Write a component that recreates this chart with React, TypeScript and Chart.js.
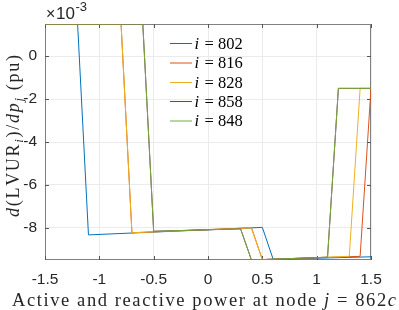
import React, { useEffect, useRef } from "react";
import { Chart, registerables } from "chart.js";

Chart.register(...registerables);

// Values in units of 1e-3 (axis shows ×10^-3)
const seriesLabels = ["802", "816", "828", "858", "848"];
const seriesColors = ["#0072BD", "#D95319", "#EDB120", "#7E2F8E", "#77AC30"];

const x802 = [-1.5, -1.2, -1.1, 0.5, 0.6, 1.5];
const y802 = [1.5, 1.5, -8.33, -7.98, -9.47, -9.35];

const x816 = [-1.5, -0.8, -0.7, 0.4, 0.5, 1.4, 1.5];
const y816 = [1.5, 1.5, -8.23, -8.0, -9.48, -9.33, -1.5];

const x828 = [-1.5, -0.8, -0.7, 0.4, 0.5, 1.3, 1.4, 1.5];
const y828 = [1.5, 1.5, -8.23, -8.0, -9.48, -9.33, -1.5, -1.5];

const x858 = [-1.5, -0.6, -0.5, 0.3, 0.4, 1.1, 1.2, 1.5];
const y858 = [1.5, 1.5, -8.16, -8.05, -9.5, -9.37, -1.5, -1.5];

const x848 = [-1.5, -0.6, -0.5, 0.3, 0.4, 1.1, 1.2, 1.5];
const y848 = [1.5, 1.5, -8.16, -8.05, -9.5, -9.37, -1.5, -1.5];

const xTicks = [-1.5, -1, -0.5, 0, 0.5, 1, 1.5];
const yTicks = [-8, -6, -4, -2, 0];
const xMin = -1.5, xMax = 1.5, yMin = -9.5, yMax = 1.5;

const seriesX = [x802, x816, x828, x858, x848];
const seriesY = [y802, y816, y828, y858, y848];

const SERIF = "Liberation Serif";
const SANS = "Liberation Sans";

type Part = { t: string; style?: string; scale?: number; dy?: number };

function setFont(ctx: CanvasRenderingContext2D, style: string, size: number, fam: string) {
  ctx.font = `${style ? style + " " : ""}${size}px "${fam}", Arial, serif`;
}

function richWidth(ctx: CanvasRenderingContext2D, parts: Part[], size: number, ls: number) {
  let w = 0;
  for (const p of parts) {
    setFont(ctx, p.style || "", size * (p.scale || 1), SERIF);
    for (const ch of p.t) w += ctx.measureText(ch).width + ls;
  }
  return w - ls;
}

function drawRich(ctx: CanvasRenderingContext2D, parts: Part[], x: number, y: number, size: number, ls: number) {
  let cx = x;
  for (const p of parts) {
    setFont(ctx, p.style || "", size * (p.scale || 1), SERIF);
    for (const ch of p.t) {
      ctx.fillText(ch, cx, y + (p.dy || 0) * size);
      cx += ctx.measureText(ch).width + ls;
    }
  }
}

function fitSpacing(ctx: CanvasRenderingContext2D, parts: Part[], size: number, target: number) {
  const n = parts.reduce((s, p) => s + p.t.length, 0);
  const w0 = richWidth(ctx, parts, size, 0);
  return Math.max(0, (target - w0) / (n - 1));
}

const decorPlugin = {
  id: "decor",
  beforeDatasetsDraw(chart: any) {
    const { ctx, chartArea: a } = chart;
    const xs = chart.scales.x, ys = chart.scales.y;
    ctx.save();
    ctx.strokeStyle = "#808080";
    ctx.lineWidth = 1;
    ctx.strokeRect(Math.round(a.left) + 0.5, Math.round(a.top) + 0.5, Math.round(a.right - a.left) - 1, Math.round(a.bottom - a.top) - 1);
    ctx.strokeStyle = "#555";
    const tl = 4;
    ctx.beginPath();
    for (const v of xTicks) {
      const px = Math.round(xs.getPixelForValue(v)) + 0.5;
      ctx.moveTo(px, a.bottom); ctx.lineTo(px, a.bottom - tl);
      ctx.moveTo(px, a.top); ctx.lineTo(px, a.top + tl);
    }
    for (const v of yTicks) {
      const py = Math.round(ys.getPixelForValue(v)) + 0.5;
      ctx.moveTo(a.left, py); ctx.lineTo(a.left + tl, py);
      ctx.moveTo(a.right, py); ctx.lineTo(a.right - tl, py);
    }
    ctx.stroke();
    ctx.restore();
  },
  afterDatasetsDraw(chart: any) {
    const { ctx, chartArea: a } = chart;
    ctx.save();
    ctx.fillStyle = "#262626";
    ctx.textBaseline = "alphabetic";
    ctx.textAlign = "left";

    // exponent label
    setFont(ctx, "", 16, SANS);
    ctx.fillText("\u00d7", a.left + 1, 19);
    setFont(ctx, "", 17, SANS);
    ctx.fillText("10", a.left + 11, 19);
    setFont(ctx, "", 13, SANS);
    ctx.fillText("-3", a.left + 30.5, 10.5);

    // x title
    const xParts: Part[] = [
      { t: "Active and reactive power at node " },
      { t: "j", style: "italic" },
      { t: " = 862" },
      { t: "c", style: "italic" },
    ];
    const xSize = 18.5;
    const xls = fitSpacing(ctx, xParts, xSize, 384);
    drawRich(ctx, xParts, 12, 306, xSize, xls);

    // y title (rotated)
    const yParts: Part[] = [
      { t: "d", style: "italic" },
      { t: "(LVUR" },
      { t: "i", style: "italic", scale: 0.7, dy: 0.2 },
      { t: ")/" },
      { t: "dp", style: "italic" },
      { t: "j", style: "italic", scale: 0.7, dy: 0.2 },
      { t: " (pu)" },
    ];
    const ySize = 18;
    const yls = fitSpacing(ctx, yParts, ySize, 162);
    const yw = richWidth(ctx, yParts, ySize, yls);
    ctx.save();
    ctx.translate(19, 136);
    ctx.rotate(-Math.PI / 2);
    drawRich(ctx, yParts, -yw / 2, 0, ySize, yls);
    ctx.restore();

    // legend
    const rows = [43, 62.5, 82, 101, 120.5];
    chart.data.datasets.forEach((ds: any, i: number) => {
      const y = rows[i];
      ctx.strokeStyle = ds.borderColor;
      ctx.lineWidth = 1;
      ctx.beginPath();
      ctx.moveTo(170, y + 0.5);
      ctx.lineTo(192, y + 0.5);
      ctx.stroke();
      ctx.fillStyle = "#000";
      setFont(ctx, "italic", 16.5, SERIF);
      ctx.fillText("i", 194.5, y + 5.5);
      setFont(ctx, "", 16.5, SERIF);
      ctx.fillText("=", 204.5, y + 5.5);
      ctx.fillText(ds.label, 218, y + 5.5);
    });
    ctx.restore();
  },
};

export default function App() {
  const ref = useRef<HTMLCanvasElement | null>(null);
  useEffect(() => {
    if (!ref.current) return;
    const datasets = seriesLabels.map((lab, i) => ({
      label: lab,
      data: seriesX[i].map((x, k) => ({ x, y: seriesY[i][k] })),
      borderColor: seriesColors[i],
      backgroundColor: seriesColors[i],
      borderWidth: 1,
      pointRadius: 0,
      fill: false,
      tension: 0,
      order: -i,
    }));
    const chart = new Chart(ref.current, {
      type: "line",
      data: { datasets },
      plugins: [decorPlugin],
      options: {
        animation: false,
        responsive: false,
        maintainAspectRatio: false,
        events: [],
        layout: { padding: { left: 0, top: 24, right: 28, bottom: 0 } },
        plugins: { legend: { display: false }, tooltip: { enabled: false } },
        scales: {
          x: {
            type: "linear",
            min: xMin,
            max: xMax,
            afterBuildTicks: (s: any) => { s.ticks = xTicks.map((v) => ({ value: v })); },
            afterFit: (s: any) => { s.height = 50; },
            grid: { color: "#ebebeb", drawTicks: false },
            border: { display: false },
            ticks: {
              color: "#262626",
              font: { family: SANS, size: 15.5 },
              padding: 10,
              maxRotation: 0,
              autoSkip: false,
              callback: (v: any) => String(v),
            },
          },
          y: {
            type: "linear",
            min: yMin,
            max: yMax,
            afterBuildTicks: (s: any) => { s.ticks = yTicks.map((v) => ({ value: v })); },
            afterFit: (s: any) => { s.width = 45; },
            grid: { color: "#ebebeb", drawTicks: false },
            border: { display: false },
            ticks: {
              color: "#262626",
              font: { family: SANS, size: 15.5 },
              padding: 8,
              autoSkip: false,
              callback: (v: any) => String(v),
            },
          },
        },
      },
    });
    return () => chart.destroy();
  }, []);
  return (
    <div style={{ position: "absolute", left: 0, top: 0, width: 399, height: 310, background: "#fff" }}>
      <canvas ref={ref} width={399} height={310} style={{ display: "block" }} />
    </div>
  );
}
